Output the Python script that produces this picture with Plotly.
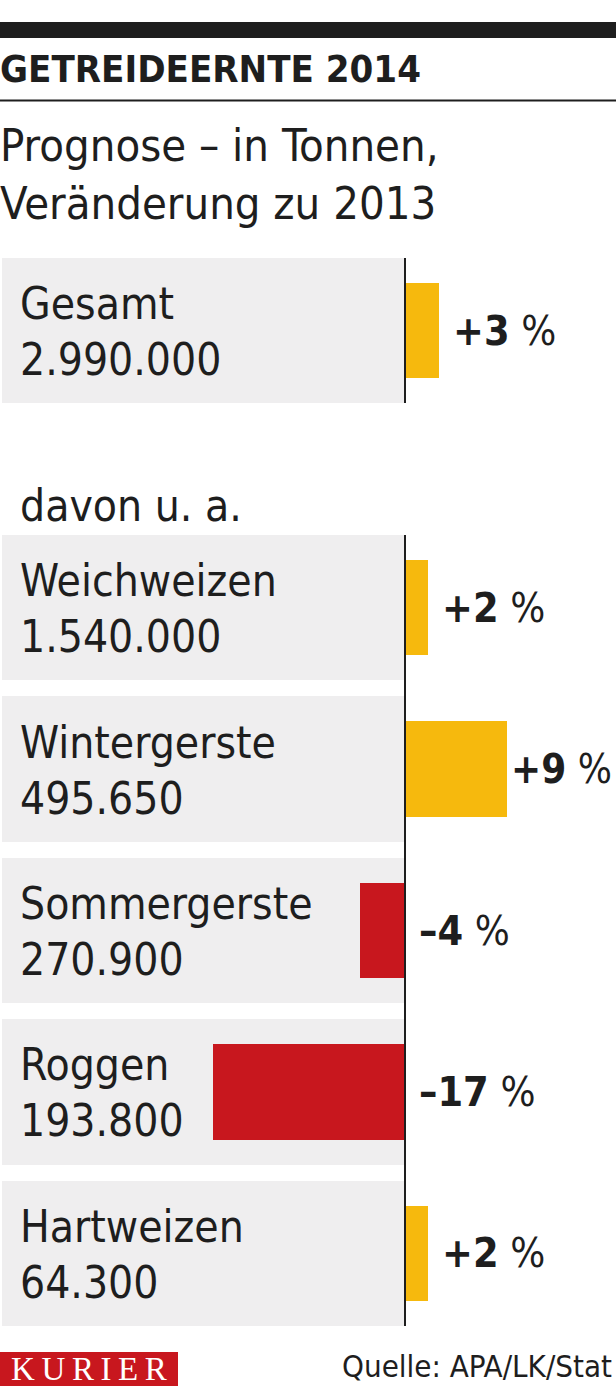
import plotly.graph_objects as go

# ---- data ----
total_label = ["Gesamt"]
total_tonnes = ["2.990.000"]
total_change = [3]

crops = ["Weichweizen", "Wintergerste", "Sommergerste", "Roggen", "Hartweizen"]
tonnes = ["1.540.000", "495.650", "270.900", "193.800", "64.300"]
change = [2, 9, -4, -17, 2]

title = "GETREIDEERNTE 2014"
subtitle1 = "Prognose – in Tonnen,"
subtitle2 = "Veränderung zu 2013"
subhead = "davon u. a."
source = "Quelle: APA/LK/Stat"
brand = "KURIER"

# ---- styles ----
W, H = 616, 1389
YEL = "#F6B90D"
RED = "#C8171E"
GREY = "#EFEEEF"
INK = "#1E1E1E"
FONT = "DejaVu Sans Condensed, Liberation Sans Narrow, Roboto, sans-serif"
PX_PER_PCT = 11.3
AXIS_X = 405
XMIN = -AXIS_X / PX_PER_PCT
XMAX = (W - AXIS_X) / PX_PER_PCT
BG_X = -(AXIS_X - 2) / PX_PER_PCT  # grey panel extent

def fy(px):
    return 1 - px / H

def color(v):
    return YEL if v >= 0 else RED

def pct(v):
    s = ("+" if v > 0 else "–") + str(abs(v))
    return f"<b>{s}</b> %"

fig = go.Figure()

# top panel (Gesamt)
fig.add_trace(go.Bar(y=total_label, x=[BG_X] * len(total_label), orientation="h",
                     marker=dict(color=GREY, line=dict(width=0)), width=0.9,
                     xaxis="x", yaxis="y", hoverinfo="skip"))
fig.add_trace(go.Bar(y=total_label, x=total_change, orientation="h",
                     marker=dict(color=[color(v) for v in total_change], line=dict(width=0)),
                     width=0.59, xaxis="x", yaxis="y"))
# lower panel
fig.add_trace(go.Bar(y=crops, x=[BG_X] * len(crops), orientation="h",
                     marker=dict(color=GREY, line=dict(width=0)), width=0.9,
                     xaxis="x2", yaxis="y2", hoverinfo="skip"))
fig.add_trace(go.Bar(y=crops, x=change, orientation="h",
                     marker=dict(color=[color(v) for v in change], line=dict(width=0)),
                     width=0.59, xaxis="x2", yaxis="y2"))

ann = []
def row_labels(cats, vals, chg, xref, yref):
    for c, t, v in zip(cats, vals, chg):
        ann.append(dict(x=18 / W, xref="paper", y=c, yref=yref, text=c, showarrow=False,
                        xanchor="left", yanchor="middle", yshift=27,
                        font=dict(family=FONT, size=44, color=INK)))
        ann.append(dict(x=18 / W, xref="paper", y=c, yref=yref, text=t, showarrow=False,
                        xanchor="left", yanchor="middle", yshift=-29,
                        font=dict(family=FONT, size=44, color=INK)))
        ann.append(dict(x=max(v, 0), xref=xref, y=c, yref=yref, text=pct(v), showarrow=False,
                        xanchor="left", yanchor="middle", xshift=2 if v > 5 else 12,
                        font=dict(family=FONT, size=40 if v > 5 else 41, color=INK)))

row_labels(total_label, total_tonnes, total_change, "x", "y")
row_labels(crops, tonnes, change, "x2", "y2")

ann.append(dict(x=0, xref="paper", y=fy(69), yref="paper", text=f"<b>{title}</b>",
                showarrow=False, xanchor="left", yanchor="middle", xshift=-2,
                font=dict(family=FONT, size=38, color=INK)))
ann.append(dict(x=0, xref="paper", y=fy(146), yref="paper", text=subtitle1,
                showarrow=False, xanchor="left", yanchor="middle", xshift=-2,
                font=dict(family=FONT, size=45, color=INK)))
ann.append(dict(x=0, xref="paper", y=fy(203), yref="paper", text=subtitle2,
                showarrow=False, xanchor="left", yanchor="middle", xshift=-2,
                font=dict(family=FONT, size=45, color=INK)))
ann.append(dict(x=18 / W, xref="paper", y=fy(505), yref="paper", text=subhead,
                showarrow=False, xanchor="left", yanchor="middle",
                font=dict(family=FONT, size=44, color=INK)))
ann.append(dict(x=1, xref="paper", y=fy(1366), yref="paper", text=source,
                showarrow=False, xanchor="right", yanchor="middle", xshift=-2,
                font=dict(family=FONT, size=31, color=INK)))
ann.append(dict(x=89 / W, xref="paper", y=fy(1369), yref="paper",
                text="\u2009".join(brand), showarrow=False, xanchor="center", yanchor="middle",
                font=dict(family="Liberation Serif, DejaVu Serif, serif", size=33, color="white")))

shapes = [
    dict(type="rect", xref="paper", yref="paper", x0=0, x1=1, y0=fy(38), y1=fy(22),
         fillcolor=INK, line=dict(width=0), layer="above"),
    dict(type="line", xref="paper", yref="paper", x0=0, x1=1, y0=fy(100.5), y1=fy(100.5),
         line=dict(color=INK, width=2)),
    dict(type="line", xref="x", yref="y domain", x0=0, x1=0, y0=0, y1=1,
         line=dict(color=INK, width=2), layer="above"),
    dict(type="line", xref="x2", yref="y2 domain", x0=0, x1=0, y0=0, y1=1,
         line=dict(color=INK, width=2), layer="above"),
    dict(type="rect", xref="paper", yref="paper", x0=0, x1=178 / W, y0=fy(1386), y1=fy(1352),
         fillcolor=RED, line=dict(width=0)),
]

ax_common = dict(showgrid=False, zeroline=False, showticklabels=False, ticks="",
                 showline=False, fixedrange=True)
fig.update_layout(
    width=W, height=H, margin=dict(l=0, r=0, t=0, b=0),
    paper_bgcolor="white", plot_bgcolor="rgba(0,0,0,0)",
    showlegend=False, barmode="overlay", bargap=0,
    xaxis=dict(domain=[0, 1], range=[XMIN, XMAX], anchor="y", **ax_common),
    yaxis=dict(domain=[fy(403), fy(258)], range=[0.45, -0.45], anchor="x", **ax_common),
    xaxis2=dict(domain=[0, 1], range=[XMIN, XMAX], anchor="y2", **ax_common),
    yaxis2=dict(domain=[fy(1326), fy(535)], range=[4.45, -0.45], anchor="x2", **ax_common),
    annotations=ann, shapes=shapes,
)

fig.write_html("out.html", config={"displayModeBar": False},
               post_script="document.body.style.margin='0';document.body.style.overflow='hidden';")
